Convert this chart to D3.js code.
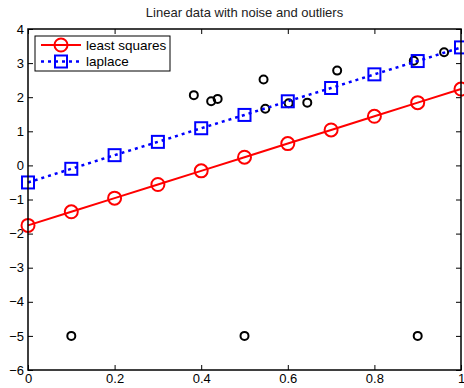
<!DOCTYPE html>
<html>
<head>
<meta charset="utf-8">
<script src="https://cdn.jsdelivr.net/npm/d3@7"></script>
<style>
  body { margin: 0; background: #fff; }
  text { font-family: "Liberation Sans", Arial, sans-serif; }
</style>
</head>
<body>
<script>
var width = 464
var height = 388

// data
var fitX = [0, 0.1, 0.2, 0.3, 0.4, 0.5, 0.6, 0.7, 0.8, 0.9, 1]
var leastSquares = [-1.76, -1.36, -0.96, -0.56, -0.16, 0.24, 0.64, 1.04, 1.44, 1.84, 2.24]
var laplace = [-0.5, -0.1, 0.3, 0.69, 1.09, 1.48, 1.88, 2.27, 2.67, 3.06, 3.46]

var dataX = [0.1, 0.5, 0.9, 0.383, 0.423, 0.438, 0.544, 0.548, 0.602, 0.645, 0.714, 0.891, 0.961]
var dataY = [-5, -5, -5, 2.06, 1.88, 1.95, 2.52, 1.66, 1.82, 1.84, 2.78, 3.07, 3.32]

var xTicks = [0, 0.2, 0.4, 0.6, 0.8, 1]
var yTicks = [-6, -5, -4, -3, -2, -1, 0, 1, 2, 3, 4]

var margin = { top: 29, bottom: 18, left: 28, right: 3 }
var plotW = width - margin.left - margin.right
var plotH = height - margin.top - margin.bottom

var svg = d3.select("body").append("svg")
  .attr("width", width)
  .attr("height", height)

var x = d3.scaleLinear().domain([0, 1]).range([0, plotW])
var y = d3.scaleLinear().domain([-6, 4]).range([plotH, 0])

svg.append("text")
  .attr("x", margin.left + plotW / 2)
  .attr("y", 17)
  .attr("text-anchor", "middle")
  .attr("font-size", 13)
  .attr("fill", "#222")
  .text("Linear data with noise and outliers")

var g = svg.append("g")
  .attr("transform", "translate(" + margin.left + "," + margin.top + ")")

// axes, ticks pointing inward, MATLAB box style
function styleAxis(sel) {
  sel.select(".domain").remove()
  sel.selectAll("line").attr("stroke", "#000").attr("stroke-width", 1)
  sel.selectAll("text").attr("font-size", 13).attr("fill", "#000")
}

g.append("g")
  .attr("transform", "translate(0," + plotH + ")")
  .call(d3.axisBottom(x).tickValues(xTicks).tickSizeInner(-5).tickSizeOuter(0).tickPadding(4).tickFormat(d3.format("~g")))
  .call(styleAxis)
g.append("g")
  .call(d3.axisTop(x).tickValues(xTicks).tickSizeInner(-5).tickSizeOuter(0).tickFormat(""))
  .call(styleAxis)
g.append("g")
  .call(d3.axisLeft(y).tickValues(yTicks).tickSizeInner(-5).tickSizeOuter(0).tickPadding(4).tickFormat(function(d){ return d < 0 ? "\u2212" + (-d) : d }))
  .call(styleAxis)
g.append("g")
  .attr("transform", "translate(" + plotW + ",0)")
  .call(d3.axisRight(y).tickValues(yTicks).tickSizeInner(-5).tickSizeOuter(0).tickFormat(""))
  .call(styleAxis)

// data points
g.selectAll("circle.pt")
  .data(dataX)
  .enter().append("circle")
  .classed("pt", true)
  .attr("cx", function(d){ return x(d) })
  .attr("cy", function(d, i){ return y(dataY[i]) })
  .attr("r", 4)
  .attr("fill", "none")
  .attr("stroke", "#000")
  .attr("stroke-width", 2)

var line = d3.line()
  .x(function(d){ return x(d[0]) })
  .y(function(d){ return y(d[1]) })

var lsPts = fitX.map(function(v, i){ return [v, leastSquares[i]] })
var lpPts = fitX.map(function(v, i){ return [v, laplace[i]] })

g.append("path")
  .datum(lsPts)
  .attr("d", line)
  .attr("fill", "none")
  .attr("stroke", "#ff0000")
  .attr("stroke-width", 2)

g.selectAll("circle.ls")
  .data(lsPts)
  .enter().append("circle")
  .classed("ls", true)
  .attr("cx", function(d){ return x(d[0]) })
  .attr("cy", function(d){ return y(d[1]) })
  .attr("r", 6.5)
  .attr("fill", "none")
  .attr("stroke", "#ff0000")
  .attr("stroke-width", 2)

g.append("path")
  .datum(lpPts)
  .attr("d", line)
  .attr("fill", "none")
  .attr("stroke", "#0000ff")
  .attr("stroke-width", 2.5)
  .attr("stroke-dasharray", "3,4")

g.selectAll("rect.lp")
  .data(lpPts)
  .enter().append("rect")
  .classed("lp", true)
  .attr("x", function(d){ return x(d[0]) - 6 })
  .attr("y", function(d){ return y(d[1]) - 6 })
  .attr("width", 12)
  .attr("height", 12)
  .attr("fill", "none")
  .attr("stroke", "#0000ff")
  .attr("stroke-width", 2)

// box frame
g.append("rect")
  .attr("width", plotW)
  .attr("height", plotH)
  .attr("fill", "none")
  .attr("stroke", "#000")
  .attr("stroke-width", 1.5)

// legend
var legend = svg.append("g").attr("transform", "translate(35,36)")
legend.append("rect")
  .attr("width", 135)
  .attr("height", 35)
  .attr("fill", "#fff")
  .attr("stroke", "#000")
  .attr("stroke-width", 1)

var lg1 = legend.append("g").attr("transform", "translate(0,9)")
lg1.append("line").attr("x1", 6).attr("x2", 46).attr("stroke", "#ff0000").attr("stroke-width", 2)
lg1.append("circle").attr("cx", 26).attr("r", 6.5).attr("fill", "none").attr("stroke", "#ff0000").attr("stroke-width", 2)
lg1.append("text").attr("x", 51).attr("y", 4.5).attr("font-size", 13.5).text("least squares")

var lg2 = legend.append("g").attr("transform", "translate(0,25.5)")
lg2.append("line").attr("x1", 6).attr("x2", 46).attr("stroke", "#0000ff").attr("stroke-width", 2.5).attr("stroke-dasharray", "3,4")
lg2.append("rect").attr("x", 20).attr("y", -6).attr("width", 12).attr("height", 12).attr("fill", "none").attr("stroke", "#0000ff").attr("stroke-width", 2)
lg2.append("text").attr("x", 51).attr("y", 4.5).attr("font-size", 13.5).text("laplace")
</script>
</body>
</html>
